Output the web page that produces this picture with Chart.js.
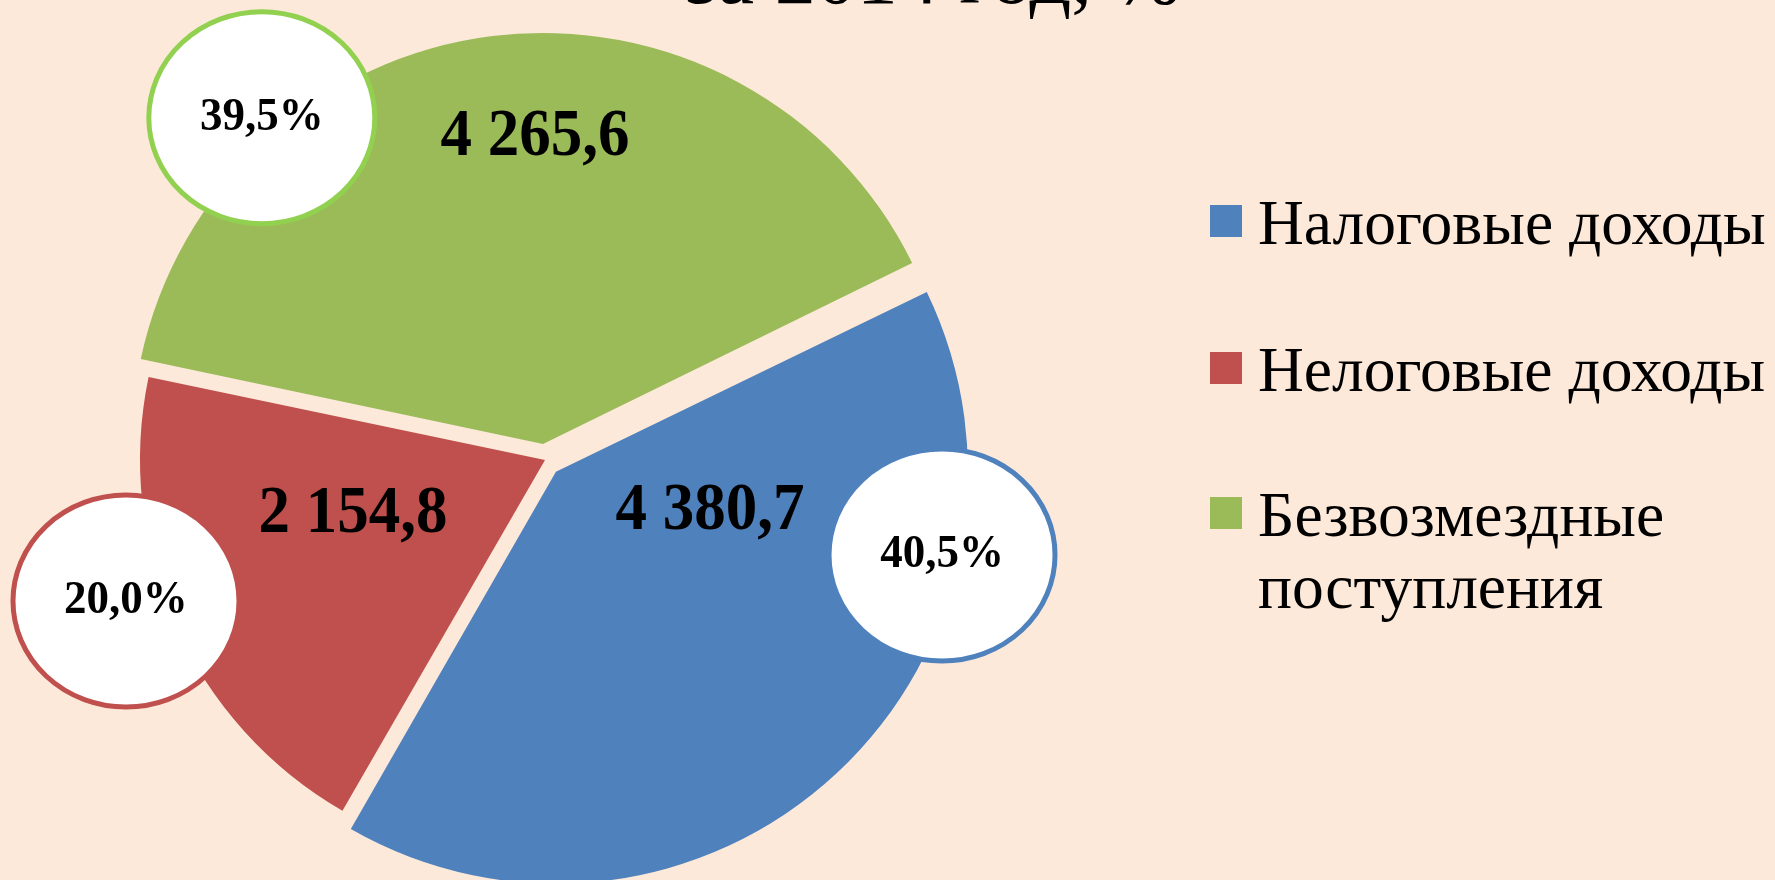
<!DOCTYPE html>
<html lang="ru">
<head>
<meta charset="utf-8">
<script src="https://cdn.jsdelivr.net/npm/chart.js@4.4.1/dist/chart.umd.min.js"></script>
<style>
  html, body { margin: 0; padding: 0; background: #FDE9D9; overflow: hidden; }
  #wrap { position: relative; width: 1775px; height: 880px; }
  #pie { position: absolute; left: 0; top: 0; }
  .title { position: absolute; left: 533px; top: -69px; width: 800px; text-align: center;
           font: 82px 'Liberation Serif', serif; line-height: 90px; color: #000; }
  .legend-item { position: absolute; left: 1210px; }
  .legend-box { position: absolute; left: 0; top: 18px; width: 32px; height: 32px; }
  .legend-text { position: absolute; left: 48px; top: 0; width: 525px; color: #000;
                 font: 63.5px 'Liberation Serif', serif; line-height: 72px; }
</style>
</head>
<body>
<div id="wrap">
  <canvas id="pie" width="1775" height="880"></canvas>
  <div class="title">за 2014 год, %</div>
  <div id="legend"></div>
</div>
<script>
const categories = ['Налоговые доходы', 'Нелоговые доходы', 'Безвозмездные поступления'];
const amounts = [4380.7, 2154.8, 4265.6];
const shares = [40.5, 20.0, 39.5];

const sliceColors = ['#4F81BD', '#C0504D', '#9BBB59'];
const ringColors = ['#4F81BD', '#C0504D', '#92D050'];

// labels were dragged by hand in the original: [angle from 3 o'clock, distance / radius]
const valueSpots = [[17.5, 0.427], [164, 0.493], [268.2, 0.795]];
const shareSpots = [[13.46, 1.008], [161.4, 1.0916], [230.4, 1.097]];

function fmtValue(v) {
  const [int, dec] = v.toFixed(1).split('.');
  return int.replace(/\B(?=(\d{3})+(?!\d))/g, ' ') + ',' + dec;
}
const fmtShare = s => s.toFixed(1).replace('.', ',') + '%';

function drawText(ctx, text, x, y, font, sy) {
  ctx.save();
  ctx.translate(x, y);
  ctx.scale(1, sy);
  ctx.font = font;
  ctx.textAlign = 'center';
  ctx.textBaseline = 'middle';
  ctx.fillStyle = '#000';
  ctx.fillText(text, 0, 0);
  ctx.restore();
}

const calloutPlugin = {
  id: 'callouts',
  afterDatasetsDraw(chart) {
    const ctx = chart.ctx;
    const meta = chart.getDatasetMeta(0);
    meta.data.forEach((arc, i) => {
      const R = arc.outerRadius;
      let a = valueSpots[i][0] * Math.PI / 180;
      let d = valueSpots[i][1] * R;
      drawText(ctx, fmtValue(amounts[i]), arc.x + Math.cos(a) * d, arc.y + Math.sin(a) * d,
        'bold 63px "Liberation Serif", serif', 1.06);

      a = shareSpots[i][0] * Math.PI / 180;
      d = shareSpots[i][1] * R;
      const cx = arc.x + Math.cos(a) * d, cy = arc.y + Math.sin(a) * d;
      ctx.save();
      ctx.beginPath();
      ctx.ellipse(cx, cy, 113, 106, 0, 0, Math.PI * 2);
      ctx.fillStyle = '#fff';
      ctx.fill();
      ctx.lineWidth = 5;
      ctx.strokeStyle = ringColors[i];
      ctx.stroke();
      ctx.restore();
      drawText(ctx, fmtShare(shares[i]), cx, cy, 'bold 45px "Liberation Serif", serif', 1.05);
    });
  }
};

new Chart(document.getElementById('pie'), {
  type: 'pie',
  data: {
    labels: categories,
    datasets: [{
      data: amounts,
      backgroundColor: sliceColors,
      borderWidth: 0,
      offset: [64, 0, 64],
      rotation: 64,
      radius: 405
    }]
  },
  options: {
    responsive: false,
    animation: false,
    layout: { padding: { left: 0, top: 40, right: 685, bottom: 0 } },
    plugins: { legend: { display: false }, tooltip: { enabled: false } }
  },
  plugins: [calloutPlugin]
});

// legend on the right, same order as the slices
const legendTops = [187, 334, 479];
const legend = document.getElementById('legend');
categories.forEach((name, i) => {
  const item = document.createElement('div');
  item.className = 'legend-item';
  item.style.top = legendTops[i] + 'px';
  const box = document.createElement('span');
  box.className = 'legend-box';
  box.style.background = sliceColors[i];
  const txt = document.createElement('div');
  txt.className = 'legend-text';
  txt.textContent = name;
  item.appendChild(box);
  item.appendChild(txt);
  legend.appendChild(item);
});
</script>
</body>
</html>
